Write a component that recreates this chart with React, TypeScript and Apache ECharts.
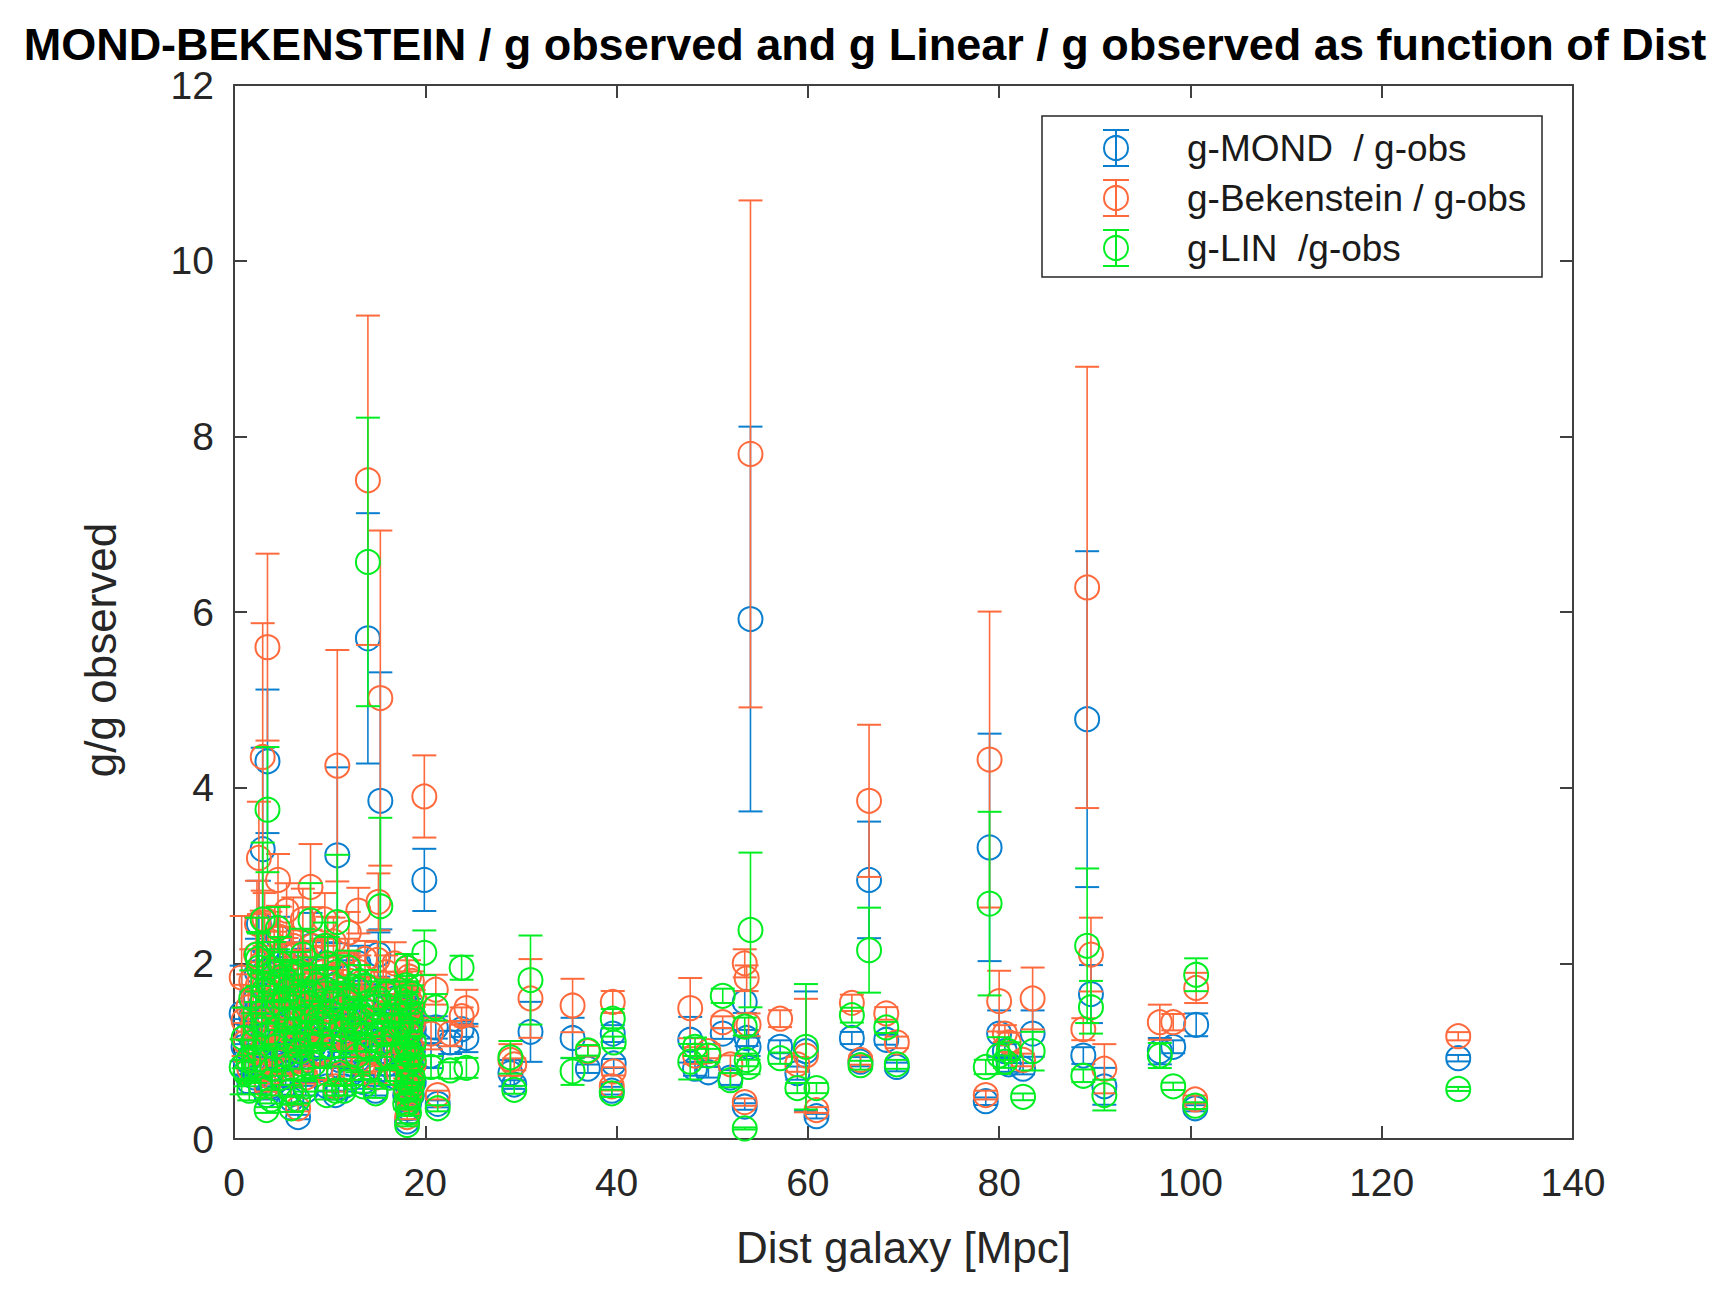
import React, { useEffect, useRef } from 'react';
import * as echarts from 'echarts';

// galaxy distance [Mpc]
const dist = [
  19.9, 20.6, 21.1, 21.3, 22.6, 23.8, 24.3, 28.9, 29.3, 31.0,
  35.4, 37.0, 39.6, 39.7, 39.5, 47.7, 48.2, 49.6, 51.1, 51.9,
  53.4, 53.6, 53.4, 54.0, 53.8, 57.1, 58.9, 59.8, 60.9, 64.6,
  65.5, 66.4, 68.2, 69.3, 78.6, 79.0, 80.0, 80.6, 81.0, 82.5,
  83.5, 88.8, 89.2, 89.6, 91.0, 96.8, 98.2, 100.6, 100.5, 128.0,
  14.0, 15.3, 3.5, 3.0, 10.8, 15.1, 8.0, 15.0, 18.1, 0.8,
  3.4, 6.7, 18.1, 1.5, 2.0, 2.3, 2.8, 3.2, 3.6, 3.9,
  4.2, 4.5, 4.8, 5.0, 5.3, 5.6, 5.9, 6.2, 6.5, 6.9,
  7.2, 7.5, 7.8, 8.3, 8.6, 9.0, 9.3, 9.7, 10.0, 10.4,
  11.0, 11.4, 11.9, 12.3, 12.7, 13.1, 13.5, 13.8, 14.4, 14.8,
  15.6, 16.0, 16.5, 17.0, 17.5, 17.9, 18.1, 18.1, 18.1, 18.1,
  18.3, 18.3, 18.5, 18.5, 18.5, 18.7, 1.2, 2.5, 4.0, 5.5,
  7.0, 9.5, 12.0, 16.8, 6.0, 10.6, 2.6, 4.6, 13.0, 11.5,
  1.0, 1.8, 2.2, 2.9, 3.3, 3.8, 4.3, 4.7, 5.1, 5.4,
  5.8, 6.3, 6.7, 7.1, 7.4, 7.9, 8.2, 8.8, 9.2, 9.6,
  10.2, 10.7, 11.2, 11.7, 12.1, 12.5, 12.9, 13.3, 13.7, 14.2,
  14.6, 15.4, 15.9, 16.3, 16.9, 17.3, 17.7, 18.0, 18.2, 18.4,
  18.6, 18.8, 18.2, 18.6, 18.4, 18.0, 18.8, 1.6, 2.4, 9.8,
];

// g-MOND / g-obs
const mond = [
  2.95, 0.95, 1.27, 0.4, 1.1, 1.25, 1.15, 0.75, 0.62, 1.22,
  1.15, 0.8, 1.2, 0.86, 0.55, 1.13, 0.8, 0.76, 1.2, 0.7,
  1.56, 1.15, 0.37, 5.92, 1.05, 1.05, 0.75, 1.0, 0.26, 1.15,
  0.88, 2.95, 1.13, 0.82, 0.43, 3.32, 1.2, 1.0, 0.85, 0.8,
  1.2, 0.95, 4.78, 1.65, 0.6, 1.0, 1.05, 1.3, 0.35, 0.92,
  5.7, 3.85, 4.3, 3.3, 3.23, 2.1, 2.2, 1.6, 1.5, 1.43,
  0.5, 0.25, 0.2, 1.2, 1.0, 1.6, 0.8, 1.9, 1.3, 0.6,
  1.5, 1.1, 1.8, 0.9, 1.4, 1.15, 0.7, 1.7, 1.25, 0.95,
  1.9, 0.55, 1.35, 1.05, 1.6, 0.8, 1.45, 0.6, 1.2, 1.75,
  0.9, 1.3, 1.55, 0.75, 1.1, 1.45, 0.65, 1.25, 1.0, 0.55,
  1.35, 0.85, 1.2, 0.7, 1.1, 0.5, 1.3, 0.95, 0.75, 1.1,
  0.4, 1.45, 0.6, 1.2, 0.85, 1.0, 0.9, 1.35, 0.95, 2.0,
  1.45, 2.0, 1.85, 1.6, 0.45, 0.5, 2.45, 2.3, 2.0, 0.6,
  1.05, 1.4, 0.7, 1.55, 1.1, 1.75, 0.8, 1.3, 1.6, 0.85,
  1.3, 1.0, 1.55, 0.8, 1.2, 1.0, 1.7, 1.25, 1.05, 1.4,
  0.95, 1.35, 1.15, 0.95, 1.4, 1.2, 0.9, 1.15, 1.6, 0.8,
  1.2, 1.0, 1.5, 0.75, 1.0, 1.35, 0.9, 1.15, 0.6, 1.0,
  0.5, 1.25, 0.35, 1.4, 0.75, 0.9, 0.65, 0.65, 1.9, 1.7,
];

// g-Bekenstein / g-obs
const bek = [
  3.9, 1.2, 1.7, 0.5, 1.2, 1.4, 1.49, 0.9, 0.85, 1.6,
  1.52, 1.0, 1.56, 0.77, 0.6, 1.49, 0.95, 1.0, 1.33, 0.85,
  2.0, 1.83, 0.42, 7.8, 1.3, 1.37, 0.85, 0.95, 0.33, 1.55,
  0.9, 3.85, 1.43, 1.1, 0.5, 4.32, 1.57, 1.2, 1.1, 0.9,
  1.6, 1.25, 6.28, 2.1, 0.8, 1.33, 1.33, 1.72, 0.45, 1.17,
  7.5, 5.02, 5.6, 4.35, 4.25, 2.7, 2.87, 2.04, 1.95, 1.84,
  0.6, 0.35, 0.25, 1.5, 1.3, 2.1, 1.0, 2.5, 1.7, 0.7,
  2.0, 1.4, 2.3, 1.15, 1.85, 1.5, 0.85, 2.2, 1.6, 1.2,
  2.5, 0.7, 1.75, 1.35, 2.05, 1.0, 1.9, 0.75, 1.55, 2.25,
  1.15, 1.7, 2.0, 0.95, 1.4, 1.9, 0.85, 1.6, 1.3, 0.7,
  1.7, 1.1, 1.5, 0.9, 1.4, 0.6, 1.65, 1.2, 0.95, 1.4,
  0.5, 1.85, 0.75, 1.55, 1.05, 1.3, 1.1, 1.75, 1.25, 2.6,
  1.9, 2.5, 2.35, 2.0, 0.55, 0.6, 3.2, 2.95, 2.6, 0.75,
  1.35, 1.8, 0.9, 2.0, 1.45, 2.25, 1.0, 1.7, 2.1, 1.05,
  1.65, 1.3, 2.0, 1.0, 1.55, 1.25, 2.2, 1.6, 1.35, 1.8,
  1.2, 1.75, 1.45, 1.2, 1.8, 1.55, 1.15, 1.5, 2.05, 1.0,
  1.55, 1.3, 1.9, 0.95, 1.25, 1.7, 1.15, 1.45, 0.75, 1.25,
  0.65, 1.6, 0.45, 1.8, 0.95, 1.1, 0.85, 0.8, 2.45, 2.2,
];

// g-LIN / g-obs
const lin = [
  2.12, 0.82, 1.5, 0.35, 0.78, 1.95, 0.81, 0.93, 0.56, 1.81,
  0.77, 1.01, 1.37, 1.1, 0.52, 0.88, 1.05, 0.95, 1.63, 0.67,
  1.28, 0.9, 0.12, 2.38, 0.82, 0.92, 0.58, 1.05, 0.58, 1.41,
  0.84, 2.15, 1.27, 0.85, 0.82, 2.68, 0.95, 0.88, 1.0, 0.48,
  1.0, 0.72, 2.2, 1.5, 0.5, 0.95, 0.6, 1.87, 0.38, 0.57,
  6.57, 2.65, 3.75, 2.5, 2.47, 1.6, 2.49, 1.3, 1.95, 0.82,
  0.33, 0.45, 0.16, 0.9, 1.1, 1.3, 0.6, 1.7, 1.2, 0.45,
  1.9, 0.9, 2.0, 0.7, 1.6, 1.35, 0.55, 1.5, 1.1, 1.0,
  2.1, 0.6, 1.2, 0.85, 1.75, 0.95, 1.3, 0.5, 1.45, 1.6,
  0.75, 1.5, 1.35, 0.7, 1.25, 1.8, 0.6, 1.05, 1.15, 0.52,
  1.2, 0.95, 1.4, 0.75, 1.3, 0.4, 1.55, 1.05, 0.65, 0.85,
  0.3, 1.2, 0.5, 1.35, 0.95, 0.7, 0.75, 2.05, 0.8, 1.8,
  1.6, 2.2, 1.95, 1.45, 0.35, 0.55, 1.95, 2.4, 1.7, 0.55,
  1.15, 1.6, 0.85, 1.45, 1.3, 1.95, 1.05, 1.55, 1.85, 0.95,
  1.7, 1.25, 1.9, 0.85, 1.4, 1.55, 1.65, 1.35, 1.15, 1.7,
  1.05, 1.9, 1.25, 1.1, 1.6, 1.45, 0.95, 1.35, 1.75, 0.8,
  1.5, 1.1, 1.65, 0.7, 1.2, 1.6, 1.0, 1.75, 0.85, 1.45,
  0.6, 1.1, 0.4, 1.65, 1.25, 0.55, 0.9, 0.55, 2.1, 2.0,
];

// relative error of each galaxy (same for all three ratios)
const relErr = [
  0.12, 0.15, 0.1, 0.1, 0.12, 0.07, 0.14, 0.2, 0.08, 0.28,
  0.2, 0.06, 0.08, 0.06, 0.08, 0.23, 0.1, 0.08, 0.05, 0.12,
  0.08, 0.08, 0.1, 0.37, 0.1, 0.07, 0.1, 0.68, 0.1, 0.06,
  0.06, 0.225, 0.05, 0.06, 0.1, 0.39, 0.22, 0.08, 0.1, 0.08,
  0.22, 0.1, 0.4, 0.2, 0.35, 0.15, 0.07, 0.1, 0.1, 0.04,
  0.25, 0.38, 0.19, 0.35, 0.31, 0.12, 0.17, 0.1, 0.08, 0.38,
  0.1, 0.1, 0.1, 0.25, 0.3, 0.2, 0.15, 0.12, 0.15, 0.1,
  0.18, 0.2, 0.15, 0.12, 0.2, 0.1, 0.12, 0.25, 0.15, 0.2,
  0.14, 0.1, 0.12, 0.18, 0.1, 0.15, 0.2, 0.1, 0.15, 0.12,
  0.1, 0.18, 0.14, 0.12, 0.2, 0.1, 0.12, 0.15, 0.14, 0.1,
  0.12, 0.15, 0.1, 0.12, 0.1, 0.15, 0.08, 0.1, 0.1, 0.08,
  0.12, 0.1, 0.1, 0.1, 0.1, 0.1, 0.2, 0.15, 0.3, 0.12,
  0.25, 0.12, 0.1, 0.12, 0.12, 0.1, 0.2, 0.1, 0.1, 0.1,
  0.3, 0.2, 0.25, 0.3, 0.2, 0.15, 0.25, 0.2, 0.15, 0.3,
  0.2, 0.2, 0.12, 0.2, 0.25, 0.15, 0.2, 0.12, 0.2, 0.15,
  0.12, 0.1, 0.2, 0.15, 0.15, 0.1, 0.2, 0.12, 0.1, 0.15,
  0.12, 0.15, 0.1, 0.12, 0.1, 0.12, 0.1, 0.06, 0.08, 0.06,
  0.08, 0.06, 0.1, 0.06, 0.06, 0.08, 0.06, 0.2, 0.2, 0.15,
];

const xTicks = [0, 140, 20];
const yTicks = [0, 12, 2];

const legendNames = ['g-MOND  / g-obs', 'g-Bekenstein / g-obs', 'g-LIN  /g-obs'];
const colors = ['#0a7fcf', '#ff6a3d', '#00ee22'];

const FONT = "'Liberation Sans', Arial, Helvetica, sans-serif";

const buildRows = (vals: number[]) =>
  vals.map((v, i) => [dist[i], v, v * (1 - relErr[i]), v * (1 + relErr[i])]);

const errSeries = (name: string, vals: number[], color: string) => ({
  name,
  type: 'custom',
  data: buildRows(vals),
  encode: { x: 0, y: [1, 2, 3] },
  renderItem: (params: any, api: any) => {
    const c = api.coord([api.value(0), api.value(1)]);
    const lo = api.coord([api.value(0), api.value(2)]);
    const hi = api.coord([api.value(0), api.value(3)]);
    const cap = 12;
    const st = { stroke: color, lineWidth: 2, fill: 'none' };
    return {
      type: 'group',
      children: [
        { type: 'line', shape: { x1: c[0], y1: lo[1], x2: c[0], y2: hi[1] }, style: { stroke: color, lineWidth: 1.6 } },
        { type: 'line', shape: { x1: c[0] - cap, y1: hi[1], x2: c[0] + cap, y2: hi[1] }, style: st },
        { type: 'line', shape: { x1: c[0] - cap, y1: lo[1], x2: c[0] + cap, y2: lo[1] }, style: st },
        { type: 'circle', shape: { cx: c[0], cy: c[1], r: 12 }, style: st },
      ],
    };
  },
});

const legendGraphic = () => {
  const left = 1042, top = 116, rowY = [148, 198, 248], ix = 1116;
  const items: any[] = [
    { type: 'rect', shape: { x: left, y: top, width: 500, height: 161 }, style: { fill: '#fff', stroke: '#262626', lineWidth: 1.5 } },
  ];
  legendNames.forEach((name, k) => {
    const y = rowY[k];
    const st = { stroke: colors[k], lineWidth: 2, fill: 'none' };
    items.push(
      { type: 'line', shape: { x1: ix, y1: y - 18, x2: ix, y2: y + 18 }, style: st },
      { type: 'line', shape: { x1: ix - 13, y1: y - 18, x2: ix + 13, y2: y - 18 }, style: st },
      { type: 'line', shape: { x1: ix - 13, y1: y + 18, x2: ix + 13, y2: y + 18 }, style: st },
      { type: 'circle', shape: { cx: ix, cy: y, r: 12 }, style: st },
      { type: 'text', x: 1187, y, style: { text: name, fontSize: 37, fontFamily: FONT, fill: '#1a1a1a', textVerticalAlign: 'middle' } },
    );
  });
  return items;
};

export default function App() {
  const ref = useRef<HTMLDivElement>(null);

  useEffect(() => {
    document.body.style.margin = '0';
    if (!ref.current) return;
    const chart = echarts.init(ref.current, undefined, { renderer: 'svg' });

    const axisLine = { show: true, onZero: false, lineStyle: { color: '#404040', width: 2 } };
    const axisTick = { show: true, inside: true, length: 13, lineStyle: { color: '#404040', width: 2 } };

    chart.setOption({
      animation: false,
      backgroundColor: '#fff',
      textStyle: { fontFamily: FONT },
      grid: { left: 234, right: 162, top: 85, bottom: 161 },
      xAxis: [
        {
          type: 'value', min: xTicks[0], max: xTicks[1], interval: xTicks[2],
          name: 'Dist galaxy [Mpc]', nameLocation: 'middle', nameGap: 86,
          nameTextStyle: { fontSize: 44, color: '#262626', fontFamily: FONT },
          axisLine, axisTick,
          axisLabel: { fontSize: 39, color: '#262626', margin: 24, fontFamily: FONT },
          splitLine: { show: false },
        },
        {
          type: 'value', position: 'top', min: xTicks[0], max: xTicks[1], interval: xTicks[2],
          axisLine, axisTick, axisLabel: { show: false }, splitLine: { show: false },
        },
      ],
      yAxis: [
        {
          type: 'value', min: yTicks[0], max: yTicks[1], interval: yTicks[2],
          axisLine, axisTick,
          axisLabel: { fontSize: 39, lineHeight: 32, color: '#262626', margin: 20, fontFamily: FONT },
          splitLine: { show: false },
        },
        {
          type: 'value', position: 'right', min: yTicks[0], max: yTicks[1], interval: yTicks[2],
          axisLine, axisTick, axisLabel: { show: false }, splitLine: { show: false },
        },
      ],
      graphic: [
        {
          type: 'text', x: 865, y: 44,
          style: {
            text: 'MOND-BEKENSTEIN / g observed and g Linear / g observed as function of Dist',
            fontSize: 45, lineHeight: 40, fontWeight: 'bold', fontFamily: FONT, fill: '#000',
            textAlign: 'center', textVerticalAlign: 'middle',
          },
        },
        {
          type: 'text', x: 100, y: 650, rotation: Math.PI / 2,
          style: {
            text: 'g/g observed', fontSize: 44, fontFamily: FONT, fill: '#262626',
            textAlign: 'center', textVerticalAlign: 'middle',
          },
        },
        ...legendGraphic(),
      ],
      series: [
        errSeries(legendNames[0], mond, colors[0]),
        errSeries(legendNames[1], bek, colors[1]),
        errSeries(legendNames[2], lin, colors[2]),
      ],
    });

    return () => chart.dispose();
  }, []);

  return <div ref={ref} style={{ width: 1735, height: 1300 }} />;
}
